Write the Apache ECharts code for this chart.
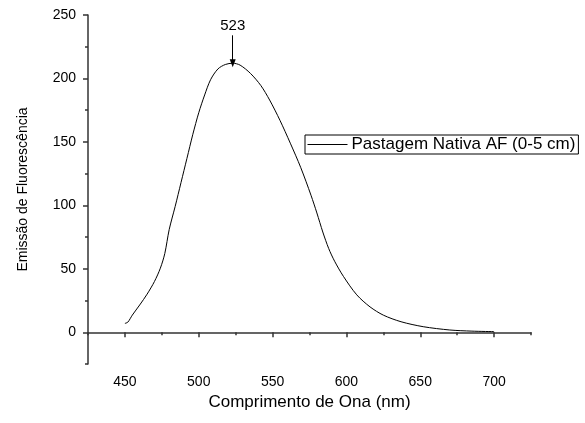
<!DOCTYPE html>
<html>
<head>
<meta charset="utf-8">
<script src="https://cdn.jsdelivr.net/npm/echarts@6/dist/echarts.min.js"></script>
<style>
html,body{margin:0;padding:0;background:#fff;}
#chart{width:585px;height:423px;}
</style>
</head>
<body>
<div id="chart"></div>
<script>
// Data
var wavelengths = [450, 452, 455, 460, 465, 470, 474, 477, 480, 484, 488, 492, 496, 500, 504, 508, 513, 518, 523, 528, 535, 542, 548, 555, 562, 569, 576, 580, 584, 588, 592, 598, 607, 616, 625, 637, 652, 670, 685, 700];
var intensity   = [7, 8, 13.5, 21.5, 30, 40, 50.5, 62, 81, 99, 118, 137, 156, 173, 187, 199, 207.5, 211, 212, 210.5, 204, 194.5, 183, 167, 149, 130, 108, 94, 79, 66, 56, 44, 29.5, 20, 13.5, 8.3, 4.4, 1.8, 0.9, 0.5];
var seriesName = 'Pastagem Nativa AF (0-5 cm)';
var xMajorTicks = [450, 500, 550, 600, 650, 700];
var xMinorTicks = [425, 475, 525, 575, 625, 675, 725];
var yMajorTicks = [0, 50, 100, 150, 200, 250];
var yMinorTicks = [-25, 25, 75, 125, 175, 225];
var peakX = 523, peakY = 212, arrowTopY = 234;
var peakLabel = '523';

var FONT = 'Liberation Sans, Arial, sans-serif';
var points = wavelengths.map(function (w, i) { return [w, intensity[i]]; });
var axisLineStyle = { color: '#333', width: 1.5 };

var chart = echarts.init(document.getElementById('chart'), null, { renderer: 'canvas' });
chart.setOption({
  animation: false,
  backgroundColor: '#fff',
  grid: { left: 88, right: 54, top: 15, bottom: 59, containLabel: false },
  legend: {
    data: [seriesName],
    left: 305, top: 135,
    orient: 'vertical',
    padding: [1, 3, 1, 2],
    itemWidth: 40, itemHeight: 14, itemGap: 0,
    borderColor: '#000', borderWidth: 1,
    itemStyle: { opacity: 0 },
    lineStyle: { color: '#000', width: 1 },
    textStyle: { fontFamily: FONT, fontSize: 17, color: '#000', padding: [0, 0, 0, -1] },
    selectedMode: false
  },
  xAxis: [{
    type: 'value', min: 425, max: 725, position: 'bottom',
    name: 'Comprimento de Ona (nm)', nameLocation: 'middle', nameGap: 30,
    nameTextStyle: { fontFamily: FONT, fontSize: 17, color: '#000' },
    axisLine: { show: true, lineStyle: axisLineStyle },
    axisTick: { show: true, inside: false, length: 5, customValues: xMajorTicks, lineStyle: axisLineStyle },
    axisLabel: { show: true, margin: 11, customValues: xMajorTicks, fontFamily: FONT, fontSize: 14, color: '#000' },
    splitLine: { show: false }
  }, {
    type: 'value', min: 425, max: 725, position: 'bottom',
    axisLine: { show: false },
    axisTick: { show: true, length: 3, customValues: xMinorTicks, lineStyle: axisLineStyle },
    axisLabel: { show: false },
    splitLine: { show: false }
  }],
  yAxis: [{
    type: 'value', min: -25, max: 250, position: 'left',
    name: 'Emissão de Fluorescência', nameLocation: 'middle', nameGap: 58, nameRotate: 90,
    nameTextStyle: { fontFamily: FONT, fontSize: 14, color: '#000' },
    axisLine: { show: true, lineStyle: axisLineStyle },
    axisTick: { show: true, inside: false, length: 5, customValues: yMajorTicks, lineStyle: axisLineStyle },
    axisLabel: { show: true, margin: 12, customValues: yMajorTicks, fontFamily: FONT, fontSize: 14, color: '#000' },
    splitLine: { show: false }
  }, {
    type: 'value', min: -25, max: 250, position: 'left',
    axisLine: { show: false },
    axisTick: { show: true, length: 3, customValues: yMinorTicks, lineStyle: axisLineStyle },
    axisLabel: { show: false },
    splitLine: { show: false }
  }],
  series: [{
    name: seriesName,
    type: 'line',
    xAxisIndex: 0, yAxisIndex: 0,
    data: points,
    showSymbol: false, symbol: 'none',
    smooth: 0.3,
    lineStyle: { color: '#000', width: 1 },
    itemStyle: { color: '#000' },
    silent: true,
    markLine: {
      silent: true,
      symbol: ['none', 'triangle'],
      symbolSize: [6, 8],
      lineStyle: { color: '#000', width: 1, type: 'solid' },
      label: { show: true, position: 'start', distance: 2, formatter: peakLabel, fontFamily: FONT, fontSize: 15, color: '#000' },
      emphasis: { disabled: true },
      data: [[{ coord: [peakX, arrowTopY] }, { coord: [peakX, peakY] }]]
    }
  }]
});
</script>
</body>
</html>
